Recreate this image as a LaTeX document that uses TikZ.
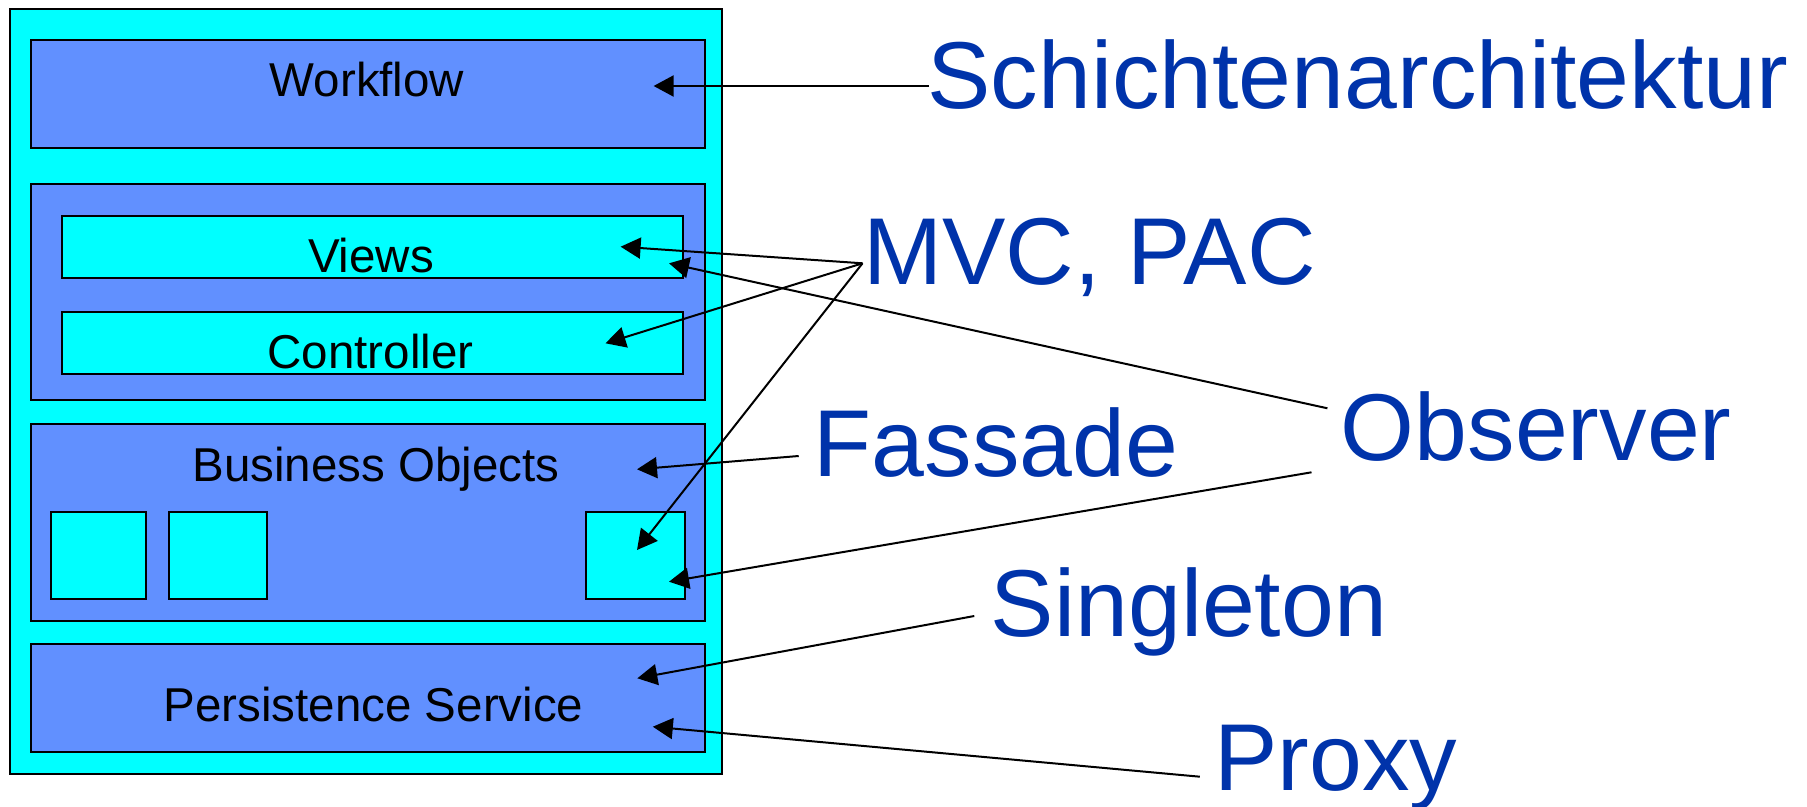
\documentclass[tikz,border=0pt]{standalone}
\usepackage{fontspec}
\setmainfont{Liberation Sans}
\usetikzlibrary{arrows.meta}
\definecolor{layercyan}{HTML}{00FFFF}
\definecolor{layerblue}{HTML}{6190FF}
\definecolor{labelblue}{HTML}{0033AA}
\begin{document}
\begin{tikzpicture}[x=0.5pt,y=-0.5pt,
  panel/.style={draw=black,line width=1pt},
  cyanpanel/.style={panel,fill=layercyan},
  bluepanel/.style={panel,fill=layerblue},
  layertext/.style={anchor=base,inner sep=0pt,font=\fontsize{23.75pt}{28pt}\selectfont},
  pattern/.style={anchor=base west,inner sep=0pt,text=labelblue,font=\fontsize{47.5pt}{57pt}\selectfont},
  conn/.style={draw=black,line width=1pt,-{Triangle[length=10pt,width=10.5pt]}}]
\useasboundingbox (0,0) rectangle (1807,807);

% layer stack
\draw[cyanpanel] (10,9) rectangle (722,774);
\draw[bluepanel] (31,40) rectangle (705,148);
\draw[bluepanel] (31,184) rectangle (705,400);
\draw[cyanpanel] (62,216) rectangle (683,278);
\draw[cyanpanel] (62,312) rectangle (683,374);
\draw[bluepanel] (31,424) rectangle (705,621);
\draw[cyanpanel] (50.5,512) rectangle (146,599);
\draw[cyanpanel] (168.5,512) rectangle (266.5,599);
\draw[cyanpanel] (586,512) rectangle (685,599);
\draw[bluepanel] (31,644) rectangle (705,752);

% layer names
\node[layertext] (workflow) at (367,97) {Workflow};
\node[layertext] (views) at (371,272.5) {Views};
\node[layertext] (controller) at (370.5,368) {Controller};
\node[layertext] (business) at (376,481.5) {Business Objects};
\node[layertext] (persistence) at (373.5,721.5) {Persistence Service};

% pattern names
\node[pattern] (schicht) at (927,108.3) {Schichtenarchitektur};
\node[pattern] (mvc) at (863,285) {MVC, PAC};
\node[pattern] (fassade) at (813.5,476.7) {Fassade};
\node[pattern] (observer) at (1340.5,460) {Observer};
\node[pattern] (singleton) at (990.5,636.7) {Singleton};
\node[pattern] (proxy) at (1214,790) {Proxy};

% connector ends
\coordinate (schichtstart) at (929,86);
\coordinate (workflowtip) at (653.6,86);
\coordinate (mvcstart) at (862.5,263.3);
\coordinate (viewstip) at (620.6,246.7);
\coordinate (controllertip) at (605.5,343.3);
\coordinate (objecttip) at (637,550);
\coordinate (fassadestart) at (798.7,456);
\coordinate (businesstip) at (637,469.3);
\coordinate (observerstartA) at (1327.4,408.3);
\coordinate (viewstipB) at (669,263.3);
\coordinate (observerstartB) at (1311.5,472.3);
\coordinate (objecttipB) at (669,581.7);
\coordinate (singletonstart) at (974.3,616);
\coordinate (singletontip) at (637.3,678.3);
\coordinate (proxystart) at (1199.8,776.7);
\coordinate (proxytip) at (652.8,726.7);

% connectors
\draw[conn] (schichtstart) -- (workflowtip);
\draw[conn] (mvcstart) -- (viewstip);
\draw[conn] (mvcstart) -- (controllertip);
\draw[conn] (mvcstart) -- (objecttip);
\draw[conn] (fassadestart) -- (businesstip);
\draw[conn] (observerstartA) -- (viewstipB);
\draw[conn] (observerstartB) -- (objecttipB);
\draw[conn] (singletonstart) -- (singletontip);
\draw[conn] (proxystart) -- (proxytip);
\end{tikzpicture}
\end{document}
